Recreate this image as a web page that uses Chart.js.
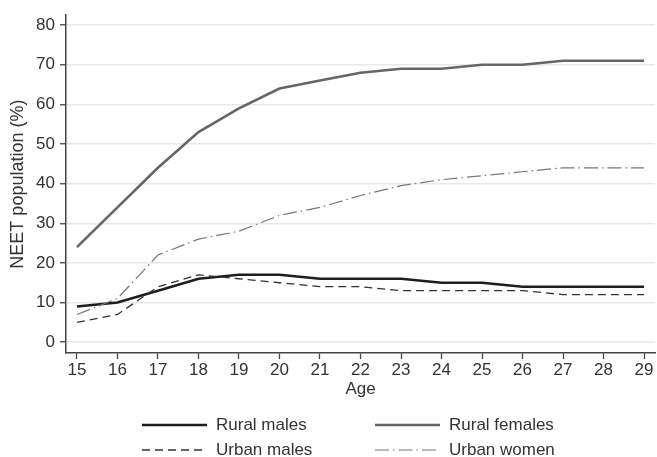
<!DOCTYPE html>
<html>
<head>
<meta charset="utf-8">
<script src="https://cdn.jsdelivr.net/npm/chart.js@4"></script>
<style>
  html, body { margin: 0; padding: 0; background: #fff; }
  #wrap { position: relative; width: 657px; height: 457px; }
  canvas { position: absolute; left: 0; top: 0; }
  .lg-item { position: absolute; font-family: "Liberation Sans", Arial, sans-serif; font-size: 17px; line-height: 20px; color: #333; white-space: nowrap; }
  .lg-line { position: absolute; }
</style>
</head>
<body>
<div id="wrap">
  <canvas id="c" width="657" height="457"></canvas>
  <div id="legend"></div>
</div>
<script>
const ages = [15, 16, 17, 18, 19, 20, 21, 22, 23, 24, 25, 26, 27, 28, 29];
const ruralMales   = [9, 10, 13, 16, 17, 17, 16, 16, 16, 15, 15, 14, 14, 14, 14];
const ruralFemales = [24, 34, 44, 53, 59, 64, 66, 68, 69, 69, 70, 70, 71, 71, 71];
const urbanMales   = [5, 7, 14, 17, 16, 15, 14, 14, 13, 13, 13, 13, 12, 12, 12];
const urbanWomen   = [7, 11, 22, 26, 28, 32, 34, 37, 39.5, 41, 42, 43, 44, 44, 44];
const yTicks = [0, 10, 20, 30, 40, 50, 60, 70, 80];
const xTicks = ages;
const seriesNames = ["Rural males", "Rural females", "Urban males", "Urban women"];

const styles = [
  { color: "#1e1e1e", width: 2.6, dash: [] },
  { color: "#666666", width: 2.6, dash: [] },
  { color: "#333333", width: 1.3, dash: [8, 5] },
  { color: "#777777", width: 1.2, dash: [14, 4, 1.5, 4] }
];

const seriesData = [ruralMales, ruralFemales, urbanMales, urbanWomen];
const datasets = seriesData.map((vals, i) => ({
  label: seriesNames[i],
  data: ages.map((a, j) => ({ x: a, y: vals[j] })),
  borderColor: styles[i].color,
  borderWidth: styles[i].width,
  borderDash: styles[i].dash,
  pointRadius: 0,
  tension: 0,
  fill: false
}));

const axisColor = "#444444";
const font = { family: "'Liberation Sans', Arial, sans-serif", size: 17 };

new Chart(document.getElementById("c"), {
  type: "line",
  data: { datasets: datasets.slice().reverse() },
  options: {
    responsive: false,
    animation: false,
    layout: { padding: { top: 10, right: 2, left: 0, bottom: 0 } },
    plugins: { legend: { display: false }, tooltip: { enabled: false } },
    scales: {
      x: {
        type: "linear",
        min: 14.73,
        max: 29.27,
        afterBuildTicks: (axis) => { axis.ticks = xTicks.map(v => ({ value: v })); },
        afterFit: (axis) => { axis.height = 104; },
        grid: { drawOnChartArea: false, drawTicks: true, tickLength: 6, tickColor: axisColor, tickWidth: 1.3 },
        border: { display: true, color: axisColor, width: 1.5 },
        ticks: { color: "#333", font: font, padding: 1.5, maxRotation: 0, autoSkip: false },
        title: { display: true, text: "Age", color: "#333", font: font, padding: { top: 0, bottom: 57 } }
      },
      y: {
        type: "linear",
        min: -2.73,
        max: 82.5,
        afterBuildTicks: (axis) => { axis.ticks = yTicks.map(v => ({ value: v })); },
        afterFit: (axis) => { axis.width = 66; },
        grid: { color: "#e8e8e8", lineWidth: 1.5, drawTicks: true, tickLength: 6, tickColor: axisColor, tickWidth: 1.3 },
        border: { display: true, color: axisColor, width: 1.5 },
        ticks: { color: "#333", font: font, padding: 5, autoSkip: false },
        title: { display: true, text: "NEET population (%)", color: "#333", font: { family: font.family, size: 18 }, padding: { top: 7.2, bottom: 0 } }
      }
    }
  }
});

// HTML legend (2 x 2), line samples drawn as SVG
const legendPos = [
  { lx: 142, tx: 216, cy: 425 },
  { lx: 375, tx: 449, cy: 425 },
  { lx: 142, tx: 216, cy: 450 },
  { lx: 375, tx: 449, cy: 450 }
];
const legend = document.getElementById("legend");
seriesNames.forEach((name, i) => {
  const p = legendPos[i];
  const s = styles[i];
  const svgNS = "http://www.w3.org/2000/svg";
  const svg = document.createElementNS(svgNS, "svg");
  svg.setAttribute("width", "66");
  svg.setAttribute("height", "10");
  svg.setAttribute("class", "lg-line");
  svg.style.left = p.lx + "px";
  svg.style.top = (p.cy - 5) + "px";
  const line = document.createElementNS(svgNS, "line");
  line.setAttribute("x1", "0"); line.setAttribute("y1", "5");
  line.setAttribute("x2", "65"); line.setAttribute("y2", "5");
  line.setAttribute("stroke", s.color);
  line.setAttribute("stroke-width", String(s.width));
  if (s.dash.length) line.setAttribute("stroke-dasharray", s.dash.join(","));
  svg.appendChild(line);
  legend.appendChild(svg);
  const t = document.createElement("div");
  t.className = "lg-item";
  t.textContent = name;
  t.style.left = p.tx + "px";
  t.style.top = (p.cy - 10) + "px";
  legend.appendChild(t);
});
</script>
</body>
</html>
